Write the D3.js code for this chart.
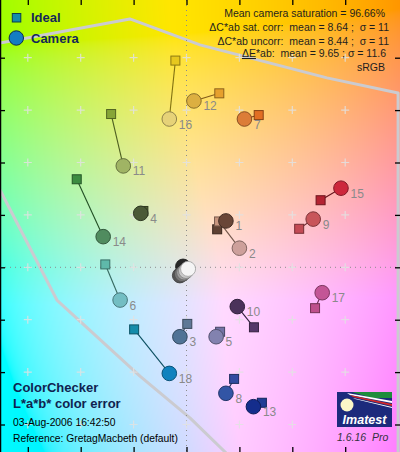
<!DOCTYPE html>
<html><head><meta charset="utf-8">
<script src="https://cdn.jsdelivr.net/npm/d3@7"></script>
<style>
body{margin:0;background:#fff}
svg{display:block}
text{font-family:"Liberation Sans",Arial,Helvetica,sans-serif}
</style>
</head><body>
<svg id="chart" width="400" height="452"></svg>
<script>
// ---------- data ----------
const patchIds = [1,2,3,4,5,6,7,8,9,10,11,12,13,14,15,16,17,18];
const idealA  = [11.6,12.3,0.3,-16.3,12.7,-30.7,27.3,18.0,42.6,25.5,-28.5,12.4,28.5,-41.5,50.7,-4.2,48.6,-19.8];
const idealB  = [14.5,17.5,-21.6,21.5,-24.6,1.1,58.1,-42.6,14.7,-22.9,58.5,66.4,-51.7,33.6,25.6,78.9,-15.6,-23.7];
const cameraA = [14.9,20.0,-2.5,-17.3,11.2,-25.1,21.9,14.9,47.9,19.2,-23.9,2.8,25.3,-31.5,58.4,-6.5,51.3,-6.5];
const cameraB = [17.7,7.3,-26.5,20.6,-26.5,-12.5,56.6,-48.1,18.4,-15.0,38.7,63.5,-53.2,11.7,30.2,56.6,-9.7,-40.5];
const idealColors  = ["#5f4132","#c8967f","#5f7896","#505f32","#7373a5","#5fb9aa","#e16e23","#324ba0","#c34b55","#55376a","#87a537","#e6a02d","#1e3c96","#3c8c41","#b42332","#e6c81e","#be508c","#148caa"];
const cameraColors = ["#694637","#cda09b","#507396","#4b5a37","#8282af","#73bec3","#dc7d37","#3255a5","#c8555a","#4b325a","#a0b464","#dcaf41","#142d8c","#508c5f","#cd283c","#e6d278","#c35596","#0f82be"];

const grayIds = [24,23,22,21,20,19];
const grayCamA = [-1.3,-2.5,-1.7,-0.9,-0.2,0.6];
const grayCamB = [0.3,-3.1,-2.6,-2.0,-1.4,-0.6];
const grayColors = ["#282828","#555555","#787878","#a0a0a0","#c8c8c8","#f5f5f5"];

const aTicks = [-60,-40,-20,0,20,40,60];
const bTicks = [-60,-40,-20,0,20,40,60,80];

// sRGB gamut boundary (a*, b*)
const gamutTopA = [-72,-70.5,-21.4,5.1,53.1,80,80];
const gamutTopB = [85.2,85.6,94.8,84.9,72.3,66.5,-75];
const gamutLeftA = [-72,-70.5,-49,-17.6,1.3,14.6,16];
const gamutLeftB = [33.5,29.5,-12.5,-41.5,-57.5,-70.5,-72];

const legendLabels = ["Ideal","Camera"];
const statLines = ["Mean camera saturation = 96.66%",
  "\u0394C*ab sat. corr:  mean = 8.64 ;  \u03c3 = 11",
  "\u0394C*ab uncorr:  mean = 8.44 ;  \u03c3 = 11",
  "*ab:  mean = 9.65 ; \u03c3 = 11.6",
  "sRGB"];
const titleLines = ["ColorChecker","L*a*b* color error"];
const infoLines = ["03-Aug-2006 16:42:50","Reference: GretagMacbeth (default)"];
const bgL = 91;

// ---------- chart ----------
const W = 400, H = 452;
const svg = d3.select("#chart");
const x = d3.scaleLinear().domain([-60,60]).range([27.8,345.2]);
const y = d3.scaleLinear().domain([-60,80]).range([424.5,57.7]);

svg.append("clipPath").attr("id","clip").append("rect").attr("width",W).attr("height",H);

// background colour field
const canvas = document.createElement("canvas");
canvas.width = W; canvas.height = H;
const ctx = canvas.getContext("2d");
const img = ctx.createImageData(W,H);
for (let py=0; py<H; py++) {
  const b = y.invert(py+0.5);
  for (let px=0; px<W; px++) {
    const a = x.invert(px+0.5);
    let a2 = a < 0 ? a*0.75 : a;
    if (b < 0) a2 -= 0.32*b;
    const c = d3.rgb(d3.lab(bgL, a2, b));
    const i = (py*W+px)*4;
    img.data[i] = c.r; img.data[i+1] = c.g; img.data[i+2] = c.b; img.data[i+3] = 255;
  }
}
ctx.putImageData(img,0,0);
svg.append("image").attr("x",0).attr("y",0).attr("width",W).attr("height",H)
  .attr("href", canvas.toDataURL());

const g = svg.append("g").attr("clip-path","url(#clip)");

// gamut lines
const line = d3.line().x(d=>x(d[0])).y(d=>y(d[1]));
[[gamutTopA,gamutTopB],[gamutLeftA,gamutLeftB]].forEach(([A,B])=>{
  g.append("path").attr("d", line(A.map((a,i)=>[a,B[i]])))
    .attr("fill","none").attr("stroke","#cbcbd0").attr("stroke-width",3).attr("stroke-linejoin","round");
});

// dotted axes
g.append("line").attr("x1",x(0)).attr("x2",x(0)).attr("y1",0).attr("y2",H)
  .attr("stroke","#8c8c8c").attr("stroke-dasharray","1,4");
g.append("line").attr("x1",0).attr("x2",W).attr("y1",y(0)).attr("y2",y(0))
  .attr("stroke","#8c8c8c").attr("stroke-dasharray","1,4");

// grid crosses
const crosses = [];
aTicks.forEach(a=>bTicks.forEach(b=>crosses.push([a,b])));
g.selectAll("path.cross").data(crosses).join("path").attr("class","cross")
  .attr("d", d=>`M${x(d[0])-4},${y(d[1])}h8M${x(d[0])},${y(d[1])-4}v8`)
  .attr("stroke","#e2e2e2").attr("stroke-opacity",0.85).attr("stroke-width",1.2);

// frame ticks via axes
const tk = (sel)=>{sel.select(".domain").remove(); sel.selectAll(".tick line").attr("stroke","#000").attr("stroke-width",1.3);};
svg.append("g").call(d3.axisTop(x).tickValues(aTicks).tickSize(-5).tickFormat("")).call(tk);
svg.append("g").attr("transform",`translate(0,${H})`).call(d3.axisBottom(x).tickValues(aTicks).tickSize(-5).tickFormat("")).call(tk);
svg.append("g").call(d3.axisLeft(y).tickValues(bTicks).tickSize(-5).tickFormat("")).call(tk);
svg.append("g").attr("transform",`translate(${W},0)`).call(d3.axisRight(y).tickValues(bTicks).tickSize(-5).tickFormat("")).call(tk);
svg.append("line").attr("x1",0.5).attr("x2",0.5).attr("y1",0).attr("y2",H).attr("stroke","#000").attr("stroke-width",1.5);

// patches
const pts = patchIds.map((id,i)=>({id, ia:idealA[i], ib:idealB[i], ca:cameraA[i], cb:cameraB[i], ic:idealColors[i], cc:cameraColors[i]}));
g.selectAll("line.conn").data(pts).join("line").attr("class","conn")
  .attr("x1",d=>x(d.ia)).attr("y1",d=>y(d.ib)).attr("x2",d=>x(d.ca)).attr("y2",d=>y(d.cb))
  .attr("stroke",d=>d3.rgb(d.ic).darker(1.6)).attr("stroke-width",1.1);
const sq = 9;
g.selectAll("rect.ideal").data(pts).join("rect").attr("class","ideal")
  .attr("x",d=>x(d.ia)-sq/2).attr("y",d=>y(d.ib)-sq/2).attr("width",sq).attr("height",sq)
  .attr("fill",d=>d.ic).attr("stroke",d=>d3.rgb(d.ic).darker(1.4)).attr("stroke-width",1);
// gray ideal squares (hidden at origin)
g.selectAll("rect.gideal").data(grayIds).join("rect").attr("class","gideal")
  .attr("x",x(0)-sq/2).attr("y",y(0)-sq/2).attr("width",sq).attr("height",sq)
  .attr("fill",(d,i)=>grayColors[i]).attr("stroke","#333");
g.selectAll("circle.gcam").data(grayIds).join("circle").attr("class","gcam")
  .attr("cx",(d,i)=>x(grayCamA[i])).attr("cy",(d,i)=>y(grayCamB[i])).attr("r",7.5)
  .attr("fill",(d,i)=>grayColors[i]).attr("stroke",(d,i)=>d3.rgb(grayColors[i]).darker(1.2)).attr("stroke-width",0.8);
g.selectAll("circle.cam").data(pts).join("circle").attr("class","cam")
  .attr("cx",d=>x(d.ca)).attr("cy",d=>y(d.cb)).attr("r",7.3)
  .attr("fill",d=>d.cc).attr("stroke",d=>d3.rgb(d.cc).darker(1.3)).attr("stroke-width",1);
g.selectAll("text.lab").data(pts).join("text").attr("class","lab")
  .attr("x",d=>x(d.ca)+9.5).attr("y",d=>y(d.cb)+9.5)
  .attr("font-size",12).attr("fill","#8a8a8a").text(d=>d.id);

// legend
const navy = "#14285a";
svg.append("rect").attr("x",12.3).attr("y",13.5).attr("width",8.5).attr("height",8.5)
  .attr("fill","#148caa").attr("stroke","#0a3c50");
svg.append("circle").attr("cx",16.3).attr("cy",38).attr("r",7.2)
  .attr("fill","#147dc3").attr("stroke","#0a2a55");
svg.selectAll("text.leg").data(legendLabels).join("text").attr("class","leg")
  .attr("x",31).attr("y",(d,i)=>22.3+i*20.4).attr("font-size",13).attr("font-weight","bold")
  .attr("fill",navy).text(d=>d);

// stats
const statY = [17,31,45,57,71];
const st = svg.selectAll("text.stat").data(statLines).join("text").attr("class","stat")
  .attr("x",(d,i)=>[385,389,389,386,385][i]).attr("y",(d,i)=>statY[i])
  .attr("text-anchor","end").attr("font-size",10.5).attr("fill","#1e1e1e")
  .style("white-space","pre");
st.each(function(d,i){
  const t = d3.select(this);
  if (i===3){ t.append("tspan").attr("text-decoration","underline").text("\u0394E"); t.append("tspan").text(d); }
  else t.text(d);
});

// title block
svg.selectAll("text.title").data(titleLines).join("text").attr("class","title")
  .attr("x",13).attr("y",(d,i)=>392+i*16).attr("font-size",13).attr("font-weight","bold")
  .attr("fill","#0f2350").text(d=>d);
svg.selectAll("text.info").data(infoLines).join("text").attr("class","info")
  .attr("x",13).attr("y",(d,i)=>426+i*16).attr("font-size",10.3)
  .attr("fill","#000").text(d=>d);

// Imatest logo
const lg = svg.append("g");
lg.append("rect").attr("x",337).attr("y",392).attr("width",55).attr("height",35).attr("fill","#1c2a7c");
lg.append("path").attr("d","M352,392L392,392L392,398L372,398Z").attr("fill","#1e8c3c");
lg.append("path").attr("d","M347,393L392,401L392,403L350,395Z").attr("fill","#ffffff");
lg.append("path").attr("d","M350,395L392,404L392,406L353,397Z").attr("fill","#d22828");
lg.append("path").attr("d","M353,398L392,407L392,408L355,399Z").attr("fill","#ffffff");
lg.append("circle").attr("cx",347).attr("cy",405).attr("r",6.5).attr("fill","#fbf6c8");
lg.append("text").attr("x",364.5).attr("y",424).attr("text-anchor","middle").attr("font-size",12.5)
  .attr("font-weight","bold").attr("font-style","italic").attr("fill","#fff").text("Imatest");
lg.append("text").attr("x",337).attr("y",441).attr("font-size",10.5).attr("font-style","italic")
  .attr("fill","#32323c").style("white-space","pre").text("1.6.16  Pro");
</script>
</body></html>
